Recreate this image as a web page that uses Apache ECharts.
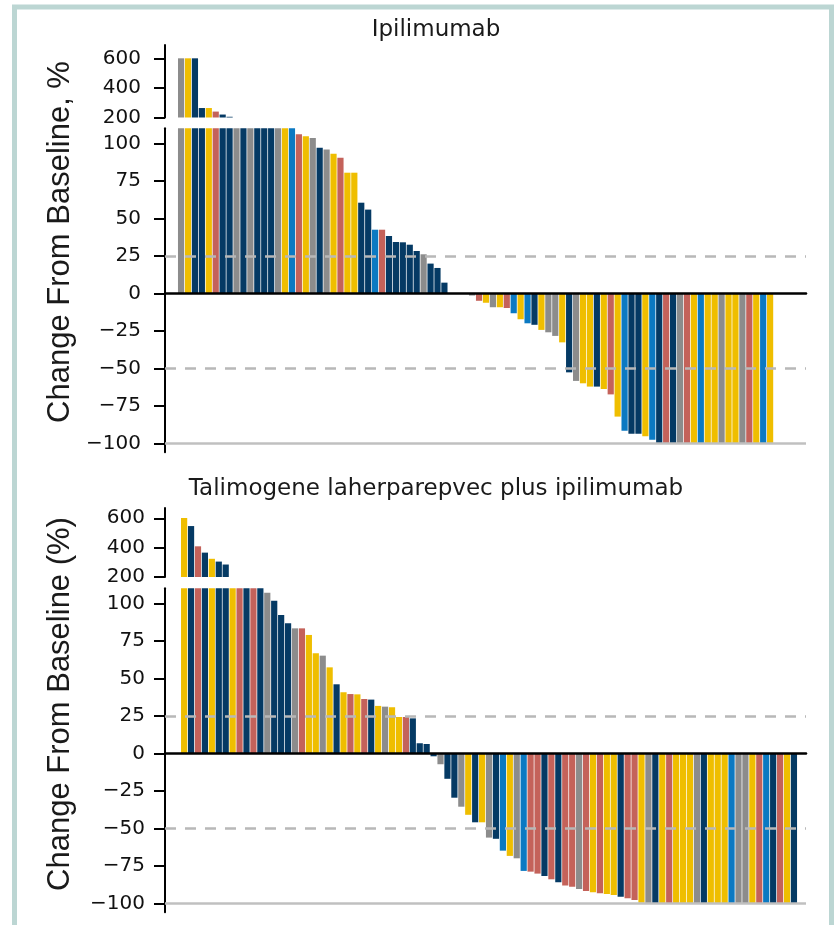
<!DOCTYPE html>
<html><head><meta charset="utf-8">
<script src="https://cdn.jsdelivr.net/npm/echarts@6/dist/echarts.min.js"></script>
<style>html,body{margin:0;padding:0;background:#fff}#c{width:835px;height:925px}</style>
</head><body><div id="c"></div>
<script>
// colour groups
const palette = { G:'#8c8c8c', Y:'#efbe00', N:'#053a64', B:'#0b79c2', R:'#c4625a' };

// Panel 1: Ipilimumab (best % change from baseline per patient)
const ipiValues = [600,600,600,264,264,240,220,205,
  190,178,165,152,140,130,122,116,112,
  106,104.7,103.5,97,95.8,93,90.4,80.4,80.4,60.4,55.8,42.4,42.4,38.2,34.2,34,32.4,28.2,26,19.8,16.9,7.1,
  0,0,0,
  -1.5,-5,-6.3,-9.3,-9.3,-9.8,-13.3,-17.3,-20,-21,-24.4,-26,-28.4,-32.7,-52.7,-58.4,-60,-62.2,-62.2,-63.8,-67.4,-82.2,-91.6,-93.6,-93.6,-95.3,-97.6,
  -100,-100,-100,-100,-100,-100,-100,-100,-100,-100,-100,-100,-100,-100,-100,-100,-100];
const ipiColors = ['G','Y','N','N','Y','R','N','N',
  'G','N','G','N','N','N','G','Y','B',
  'R','Y','G','N','G','Y','R','Y','Y','N','N','B','R','N','N','N','N','N','G','N','N','N',
  'G','G','G',
  'G','R','Y','G','Y','R','B','Y','B','N','Y','G','G','Y','N','G','Y','Y','N','Y','R','Y','B','N','N','Y','B',
  'N','R','N','G','R','Y','B','Y','Y','G','Y','Y','G','R','Y','B','Y'];

// Panel 2: Talimogene laherparepvec plus ipilimumab
const tvecValues = [602,547,409,366,324,305,285,
  180,160,145,130,118,
  107,101.7,92.2,86.7,83.3,83.3,78.9,66.7,65.1,57.3,46,40.7,39.5,39.3,36.2,35.8,31.6,31.1,30.7,24.2,24.2,23.3,6.7,6.2,
  -2,-7.3,-17,-29.6,-35.6,-41,-46,-46,-56.2,-57,-64.9,-68.4,-70,-78.4,-78.9,-80.2,-81.8,-84,-86,-88.2,-88.9,-90.4,-91.8,-92.7,-93.3,-93.8,-94.4,-95.6,-96.7,-97.8,-99.6,
  -100,-100,-100,-100,-100,-100,-100,-100,-100,-100,-100,-100,-100,-100,-100,-100,-100,-100,-100,-100,-100,-100];
const tvecColors = ['Y','N','R','N','Y','N','N',
  'Y','R','N','R','N',
  'G','N','N','N','G','R','Y','Y','G','Y','N','Y','R','Y','R','N','Y','G','Y','Y','R','N','N','N',
  'N','G','N','N','G','Y','N','Y','G','N','B','Y','G','B','R','R','N','R','N','R','R','G','R','Y','R','Y','Y','N','R','R','Y',
  'G','N','Y','R','Y','Y','Y','G','N','Y','Y','Y','B','G','G','Y','R','B','N','R','Y','N'];

const upperTicks = [200, 400, 600];
const lowerTicks = [-100, -75, -50, -25, 0, 25, 50, 75, 100];
const refLines = [25, -50];
const floorLine = -100;
const panelTitles = ['Ipilimumab', 'Talimogene laherparepvec plus ipilimumab'];
const axisTitles = ['Change From Baseline, %', 'Change From Baseline (%)'];

function items(values, colors) {
  return values.map((v, i) => ({ value: [i + 1, v], itemStyle: { color: palette[colors[i]] } }));
}
const fmt = v => (v < 0 ? '\u2212' + Math.abs(v) : String(v));

const GL = 165, GW = 641;
const grids = [
  { left: GL, top: 45, width: GW, height: 72.5 },
  { left: GL, top: 128.3, width: GW, height: 324 },
  { left: GL, top: 508, width: GW, height: 69 },
  { left: GL, top: 588.3, width: GW, height: 324 }
];
const xRanges = [[-1.32, 91.18], [-1.32, 91.18], [-1.76, 90.74], [-1.76, 90.74]];
const xAxes = grids.map((g, i) => ({
  type: 'value', gridIndex: i, min: xRanges[i][0], max: xRanges[i][1],
  show: i % 2 === 1, z: 10,
  axisLine: { show: true, onZero: true, lineStyle: { color: '#000', width: 2.5 } },
  axisTick: { show: false }, axisLabel: { show: false }, splitLine: { show: false }
}));
function yAxis(i, min, max, ticks, margin) {
  return {
    type: 'value', gridIndex: i, min: min, max: max,
    axisLine: { show: true, onZero: false, lineStyle: { color: '#000', width: 2 } },
    axisTick: { show: true, length: 11, customValues: ticks, lineStyle: { color: '#000', width: 2 } },
    axisLabel: { show: true, customValues: ticks, formatter: fmt, margin: margin,
      fontFamily: 'DejaVu Sans', fontSize: 20, color: '#111' },
    splitLine: { show: false }
  };
}
const yAxes = [
  yAxis(0, 200, 690, upperTicks, 24),
  yAxis(1, -106, 110, lowerTicks, 24),
  yAxis(2, 200, 670, upperTicks, 20),
  yAxis(3, -106, 110, lowerTicks, 20)
];
const dash = { type: [11, 9], color: '#b8b8b8', width: 2.5 };
function mk() {
  return {
    symbol: ['none', 'none'], silent: true, label: { show: false }, animation: false,
    data: refLines.map(v => ({ yAxis: v, lineStyle: dash }))
      .concat([{ yAxis: floorLine, lineStyle: { type: 'solid', color: '#c0c0c0', width: 2.5 } }])
  };
}
const panels = [ipiValues, ipiValues, tvecValues, tvecValues];
const cols = [ipiColors, ipiColors, tvecColors, tvecColors];
const series = panels.map((vals, i) => ({
  type: 'bar', xAxisIndex: i, yAxisIndex: i, barWidth: 6.2, clip: true,
  data: items(vals, cols[i]),
  markLine: i % 2 === 1 ? mk() : undefined
}));

const graphic = [
  { type: 'rect', shape: { x: 14.5, y: 7, width: 817, height: 960 }, style: { fill: null, stroke: '#bcd6d3', lineWidth: 5 }, silent: true },
  { type: 'text', x: 436, y: 30, style: { text: panelTitles[0], font: '23px "DejaVu Sans"', align: 'center', verticalAlign: 'middle', fill: '#1a1a1a' } },
  { type: 'text', x: 436, y: 489, style: { text: panelTitles[1], font: '23px "DejaVu Sans"', align: 'center', verticalAlign: 'middle', fill: '#1a1a1a' } },
  { type: 'text', x: 60, y: 242, rotation: Math.PI / 2, style: { text: axisTitles[0], font: '31px "Liberation Sans"', align: 'center', verticalAlign: 'middle', fill: '#1a1a1a' } },
  { type: 'text', x: 60, y: 704, rotation: Math.PI / 2, style: { text: axisTitles[1], font: '31px "Liberation Sans"', align: 'center', verticalAlign: 'middle', fill: '#1a1a1a' } }
];

const chart = echarts.init(document.getElementById('c'), null, { renderer: 'canvas' });
chart.setOption({
  animation: false, backgroundColor: '#fff',
  grid: grids, xAxis: xAxes, yAxis: yAxes, series: series, graphic: graphic
});
</script></body></html>
